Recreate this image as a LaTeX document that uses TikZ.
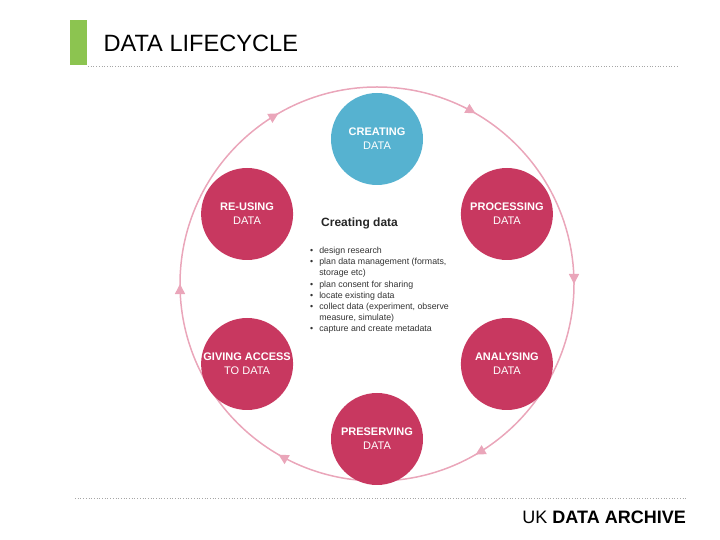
\documentclass[tikz,border=0pt]{standalone}
\usepackage{fontspec}
\setmainfont{Liberation Sans}
\usepackage{xcolor}
\usetikzlibrary{positioning,arrows.meta,decorations.markings}

\definecolor{stagepink}{RGB}{200,56,96}
\definecolor{stageblue}{RGB}{86,178,208}
\definecolor{ringpink}{RGB}{234,166,186}
\definecolor{titlegreen}{RGB}{140,196,80}

\begin{document}
\begin{tikzpicture}[
    x=1pt, y=1pt,
    stage/.style={
        circle, fill=stagepink, minimum size=92pt, inner sep=0pt,
        align=center, text=white, font=\fontsize{11}{14}\selectfont\bfseries
    },
    firststage/.style={stage, fill=stageblue},
    ring/.style={
        line width=1.5pt, ringpink, postaction={decorate},
        decoration={markings, mark=between positions 0 and 0.95 step 0.166667
            with {\arrowreversed{Triangle[length=10pt,width=10pt]}}}
    },
    dotline/.style={dotted, gray!70, line width=0.7pt}
]
\useasboundingbox (0,0) rectangle (720,540);

% header and footer
\node[fill=titlegreen, minimum width=17pt, minimum height=45pt, inner sep=0pt] (bar) at (78.5,497.5) {};
\node[anchor=west, font=\fontsize{23.6}{28}\selectfont] (title) at (100,497) {DATA LIFECYCLE};
\draw[dotline] (88,474) -- (677,474);
\draw[dotline] (75,42) -- (686,42);
\node[anchor=east, font=\fontsize{18}{22}\selectfont, inner sep=0pt] (archive) at (686,23) {UK \textbf{DATA ARCHIVE}};

% the cycle
\draw[ring] (377,256) circle[radius=197pt];
\coordinate (hub) at (377,251);

\node[firststage] (creating)   at ([shift={(90:150pt)}]hub)   {CREATING\\{\mdseries DATA}};
\node[stage]      (processing) at ([shift={(30:150pt)}]hub)   {PROCESSING\\{\mdseries DATA}};
\node[stage]      (analysing)  at ([shift={(-30:150pt)}]hub)  {ANALYSING\\{\mdseries DATA}};
\node[stage]      (preserving) at ([shift={(-90:150pt)}]hub)  {PRESERVING\\{\mdseries DATA}};
\node[stage]      (access)     at ([shift={(-150:150pt)}]hub) {GIVING ACCESS\\{\mdseries TO DATA}};
\node[stage]      (reusing)    at ([shift={(150:150pt)}]hub)  {RE-USING\\{\mdseries DATA}};

% creating data details
\node[anchor=west, inner sep=0pt, text=black!85, font=\fontsize{12}{14}\selectfont\bfseries] (heading) at (321,317) {Creating data};
\node[anchor=base west, inner sep=0pt, text=black!80, font=\fontsize{8.8}{11.2}\selectfont] (tasks) at (310,286.5) {%
  \begin{tabular}[t]{@{}l@{\hspace{6pt}}l@{}}
  \textbullet & design research\\
  \textbullet & plan data management (formats,\\
              & storage etc)\\
  \textbullet & plan consent for sharing\\
  \textbullet & locate existing data\\
  \textbullet & collect data (experiment, observe\\
              & measure, simulate)\\
  \textbullet & capture and create metadata
  \end{tabular}};
\end{tikzpicture}
\end{document}
